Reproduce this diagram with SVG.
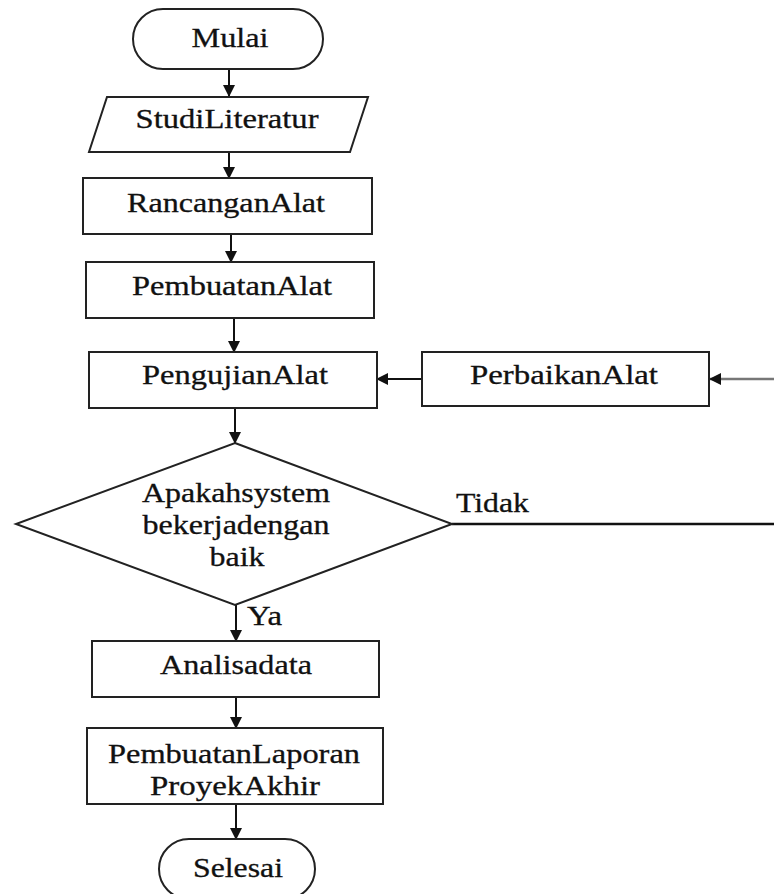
<svg xmlns="http://www.w3.org/2000/svg" width="774" height="894" viewBox="0 0 774 894">
<style>
.s{fill:#fff;stroke:#222;stroke-width:2}
.t{font-family:"Liberation Serif","Times New Roman",serif;font-size:27px;fill:#111;stroke:#111;stroke-width:0.3;text-anchor:middle}
.tl{font-family:"Liberation Serif","Times New Roman",serif;font-size:27px;fill:#111;stroke:#111;stroke-width:0.3}
.c{fill:none;stroke:#111;stroke-width:2}
</style>
<defs>
<marker id="ah" markerUnits="userSpaceOnUse" markerWidth="12" markerHeight="12" refX="11" refY="6" orient="auto">
<path d="M0,0 L12,6 L0,12 Z" fill="#111"/>
</marker>
</defs>
<rect width="774" height="894" fill="#fff"/>
<g id="connectors">
<line class="c" x1="229" y1="69" x2="229" y2="96" marker-end="url(#ah)"/>
<line class="c" x1="229" y1="152" x2="229" y2="178" marker-end="url(#ah)"/>
<line class="c" x1="231" y1="234" x2="231" y2="262" marker-end="url(#ah)"/>
<line class="c" x1="234" y1="318" x2="234" y2="352" marker-end="url(#ah)"/>
<line class="c" x1="235" y1="408" x2="235" y2="443" marker-end="url(#ah)"/>
<line class="c" x1="236" y1="605" x2="236" y2="641" marker-end="url(#ah)"/>
<line class="c" x1="236" y1="697" x2="236" y2="728" marker-end="url(#ah)"/>
<line class="c" x1="236" y1="804" x2="236" y2="839" marker-end="url(#ah)"/>
<line class="c" x1="422" y1="379" x2="377" y2="379" marker-end="url(#ah)"/>
<line x1="774" y1="379" x2="710" y2="379" stroke="#777" stroke-width="2.5" marker-end="url(#ah)"/>
<line x1="452" y1="524" x2="774" y2="524" stroke="#111" stroke-width="2.5"/>
<text class="tl" x="456" y="512" textLength="73" lengthAdjust="spacingAndGlyphs">Tidak</text>
<text class="tl" x="247" y="625" textLength="35" lengthAdjust="spacingAndGlyphs">Ya</text>
</g>
<g id="mulai">
<rect class="s" x="133" y="9" width="190" height="60" rx="30"/>
<text class="t" x="230" y="47" textLength="77" lengthAdjust="spacingAndGlyphs">Mulai</text>
</g>
<g id="studi">
<polygon class="s" points="107,97 368,97 350,152 89,152"/>
<text class="t" x="227" y="128" textLength="183" lengthAdjust="spacingAndGlyphs">StudiLiteratur</text>
</g>
<g id="rancangan">
<rect class="s" x="83" y="178" width="289" height="56"/>
<text class="t" x="226" y="212" textLength="198" lengthAdjust="spacingAndGlyphs">RancanganAlat</text>
</g>
<g id="pembuatan">
<rect class="s" x="86" y="262" width="288" height="56"/>
<text class="t" x="232" y="295" textLength="200" lengthAdjust="spacingAndGlyphs">PembuatanAlat</text>
</g>
<g id="pengujian">
<rect class="s" x="89" y="352" width="288" height="56"/>
<text class="t" x="235" y="384" textLength="186" lengthAdjust="spacingAndGlyphs">PengujianAlat</text>
</g>
<g id="perbaikan">
<rect class="s" x="422" y="352" width="287" height="54"/>
<text class="t" x="564" y="384" textLength="188" lengthAdjust="spacingAndGlyphs">PerbaikanAlat</text>
</g>
<g id="keputusan">
<polygon class="s" points="235,443 452,524 235,605 16,524"/>
<text class="t" x="236" y="502" textLength="188" lengthAdjust="spacingAndGlyphs">Apakahsystem</text>
<text class="t" x="236" y="534" textLength="187" lengthAdjust="spacingAndGlyphs">bekerjadengan</text>
<text class="t" x="237" y="566" textLength="55" lengthAdjust="spacingAndGlyphs">baik</text>
</g>
<g id="analisa">
<rect class="s" x="92" y="641" width="287" height="56"/>
<text class="t" x="236" y="674" textLength="152" lengthAdjust="spacingAndGlyphs">Analisadata</text>
</g>
<g id="laporan">
<rect class="s" x="87" y="728" width="296" height="76"/>
<text class="t" x="234" y="763" textLength="252" lengthAdjust="spacingAndGlyphs">PembuatanLaporan</text>
<text class="t" x="235" y="795" textLength="170" lengthAdjust="spacingAndGlyphs">ProyekAkhir</text>
</g>
<g id="selesai">
<rect class="s" x="159" y="839" width="156" height="60" rx="30"/>
<text class="t" x="238" y="877" textLength="90" lengthAdjust="spacingAndGlyphs">Selesai</text>
</g>
</svg>
